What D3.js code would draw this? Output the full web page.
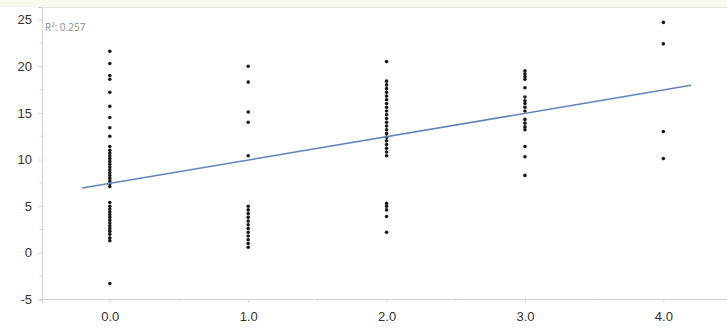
<!DOCTYPE html>
<html>
<head>
<meta charset="utf-8">
<script src="https://cdn.jsdelivr.net/npm/d3@7"></script>
<style>
  html, body { margin: 0; padding: 0; background: #fff; }
  svg { display: block; font-family: "Open Sans", "Noto Sans", sans-serif; }
</style>
</head>
<body>
<svg id="chart" width="727" height="328"></svg>
<script>
// Observed values per group (x = group level, y = response)
const groups = [0, 1, 2, 3, 4];
const valuesG0 = [21.6, 20.3, 19.0, 18.6, 17.2, 15.7, 14.5, 13.4, 12.5,
  11.4, 11.0, 10.7, 10.4, 10.1, 9.8, 9.5, 9.2, 8.9, 8.6, 8.3, 8.0, 7.7, 7.4, 7.1,
  5.4, 5.0, 4.7, 4.4, 4.1, 3.8, 3.5, 3.2, 2.9, 2.6, 2.3, 2.0, 1.6, 1.3, -3.3];
const valuesG1 = [20.0, 18.3, 15.1, 14.0, 10.4,
  5.0, 4.6, 4.2, 3.8, 3.4, 3.0, 2.6, 2.2, 1.8, 1.4, 1.0, 0.6];
const valuesG2 = [20.5, 18.4, 18.0, 17.6, 17.2, 16.8, 16.4, 16.0, 15.6, 15.2, 14.8,
  14.4, 14.0, 13.6, 13.2, 12.8, 12.4, 12.0, 11.6, 11.2, 10.8, 10.4,
  5.3, 5.0, 4.6, 3.9, 2.2];
const valuesG3 = [19.5, 19.2, 18.9, 18.6, 17.7, 16.7, 16.3, 16.0, 15.6, 15.2,
  14.3, 13.9, 13.5, 13.2, 11.4, 10.3, 8.3];
const valuesG4 = [24.7, 22.4, 13.0, 10.1];
const groupValues = [valuesG0, valuesG1, valuesG2, valuesG3, valuesG4];

// Linear fit
const fitIntercept = 7.45;
const fitSlope = 2.5;
const fitRange = [-0.2, 4.2];
const rSquared = "0.257";

const xTicks = [0, 1, 2, 3, 4];
const xTickLabels = ["0.0", "1.0", "2.0", "3.0", "4.0"];
const xMinorTicks = [-0.5, 0.5, 1.5, 2.5, 3.5];
const yTicks = [-5, 0, 5, 10, 15, 20, 25];
const yTickLabels = ["-5", "0", "5", "10", "15", "20", "25"];
const yMinorTicks = [-2.5, 2.5, 7.5, 12.5, 17.5, 22.5];

const svg = d3.select("#chart");
const W = 727, H = 328;
const m = { top: 7, right: 0, bottom: 29, left: 42 };

const x = d3.scaleLinear().domain([-0.49, 4.46]).range([m.left, W - m.right]);
const y = d3.scaleLinear().domain([-4.95, 26.35]).range([H - m.bottom, m.top]);

// top band
svg.append("rect").attr("x", 0).attr("y", 0).attr("width", W).attr("height", m.top)
  .attr("fill", "#f9f8f1");
svg.append("line").attr("x1", m.left).attr("x2", W).attr("y1", m.top + 0.5).attr("y2", m.top + 0.5)
  .attr("stroke", "#e8e6dc");

const axisColor = "#d3d3d3";
const labelColor = "#333333";

// X axis
const gx = svg.append("g").attr("transform", `translate(0,${H - m.bottom})`)
  .call(d3.axisBottom(x).tickValues(xTicks)
    .tickFormat((d, i) => xTickLabels[i]).tickSizeOuter(0).tickSize(4).tickPadding(9));
gx.select(".domain").attr("stroke", axisColor);
gx.selectAll(".tick line").attr("stroke", axisColor);
gx.selectAll(".tick text").attr("fill", labelColor).attr("font-size", 13);
svg.append("g").attr("transform", `translate(0,${H - m.bottom})`)
  .selectAll("line").data(xMinorTicks.filter(d => x(d) >= m.left)).join("line")
  .attr("x1", d => x(d)).attr("x2", d => x(d)).attr("y1", 0).attr("y2", 2.5)
  .attr("stroke", axisColor);

// Y axis
const gy = svg.append("g").attr("transform", `translate(${m.left},0)`)
  .call(d3.axisLeft(y).tickValues(yTicks)
    .tickFormat((d, i) => yTickLabels[i]).tickSizeOuter(0).tickSize(4).tickPadding(6));
gy.select(".domain").attr("stroke", axisColor);
gy.selectAll(".tick line").attr("stroke", axisColor);
gy.selectAll(".tick text").attr("fill", labelColor).attr("font-size", 13);
svg.append("g").attr("transform", `translate(${m.left},0)`)
  .selectAll("line").data(yMinorTicks).join("line")
  .attr("x1", -2.5).attr("x2", 0).attr("y1", d => y(d)).attr("y2", d => y(d))
  .attr("stroke", axisColor);

// Points
const pts = groups.flatMap((g, i) => groupValues[i].map(v => ({ g, v })));
svg.append("g").selectAll("circle").data(pts).join("circle")
  .attr("cx", d => x(d.g)).attr("cy", d => y(d.v)).attr("r", 1.8)
  .attr("fill", "#1a1a1a");

// Fit line
const line = d3.line().x(d => x(d)).y(d => y(fitIntercept + fitSlope * d));
svg.append("path").datum(fitRange).attr("d", line)
  .attr("fill", "none").attr("stroke", "#6283b8").attr("stroke-width", 1.5);

// R² annotation
svg.append("text").attr("x", m.left + 3).attr("y", 31)
  .attr("font-size", 10).attr("fill", "#8a8a8a")
  .text("R\u00B2: " + rSquared);
</script>
</body>
</html>
